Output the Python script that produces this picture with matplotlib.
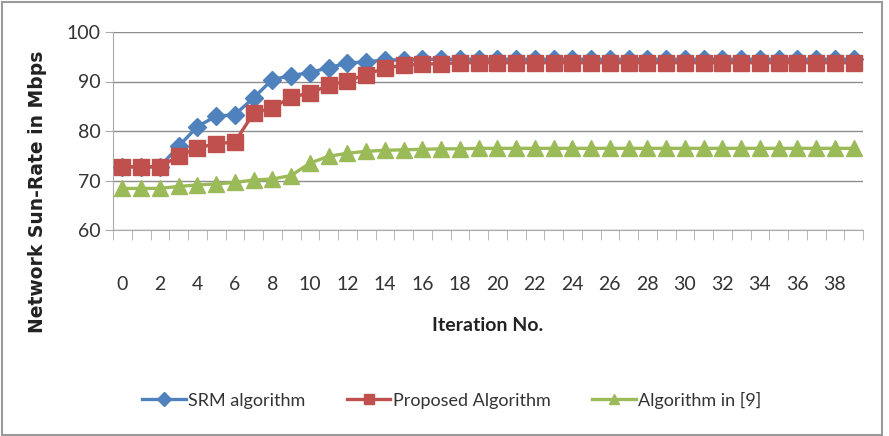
import matplotlib
matplotlib.use("Agg")
import matplotlib.pyplot as plt
from matplotlib.patches import Rectangle
import numpy as np

iterations = list(range(40))
srm = [72.8, 72.8, 72.8, 76.9, 80.9, 83.0, 83.3, 86.7, 90.4, 91.2, 91.8, 92.8, 93.7, 94.0, 94.3,
       94.4, 94.5, 94.5, 94.5, 94.5, 94.5, 94.5, 94.5, 94.5, 94.5, 94.5, 94.5, 94.5, 94.5, 94.5,
       94.5, 94.5, 94.5, 94.5, 94.5, 94.5, 94.5, 94.5, 94.5, 94.5]
proposed = [72.8, 72.8, 72.8, 74.9, 76.6, 77.4, 77.8, 83.6, 84.7, 86.8, 87.7, 89.2, 90.1, 91.4, 92.7,
            93.3, 93.5, 93.6, 93.8, 93.8, 93.8, 93.8, 93.8, 93.8, 93.8, 93.8, 93.8, 93.8, 93.8, 93.8,
            93.8, 93.8, 93.8, 93.8, 93.8, 93.8, 93.8, 93.8, 93.8, 93.8]
alg9 = [68.4, 68.4, 68.4, 68.8, 69.1, 69.3, 69.6, 70.1, 70.3, 71.0, 73.5, 74.9, 75.5, 75.9, 76.1,
        76.2, 76.3, 76.4, 76.4, 76.5, 76.5, 76.5, 76.5, 76.5, 76.5, 76.5, 76.5, 76.5, 76.5, 76.5,
        76.5, 76.5, 76.5, 76.5, 76.5, 76.5, 76.5, 76.5, 76.5, 76.5]
x_ticklabels = [str(v) for v in range(0, 40, 2)]
y_ticks = [60, 70, 80, 90, 100]

narrow = ['Lato', 'DejaVu Sans']

fig = plt.figure(figsize=(8.89, 4.36), dpi=100)
fig.patches.append(Rectangle((0.002, 0.003), 0.990, 0.993, transform=fig.transFigure,
                             fill=False, edgecolor='#9a9a9a', linewidth=1.5))
ax = fig.add_axes([113/889, 1-230/436, (863-113)/889, (230-32)/436])

x = np.array(iterations)
ax.plot(x, srm, color='#4F81BD', marker='D', markersize=9, linewidth=2.4, label='SRM algorithm', zorder=3)
ax.plot(x, proposed, color='#C0504D', marker='s', markersize=11, linewidth=2.4, label='Proposed Algorithm', zorder=4)
ax.plot(x, alg9, color='#9BBB59', marker='^', markersize=11, linewidth=2.4, label='Algorithm in [9]', zorder=3)

ax.set_xlim(-0.5, 39.5)
ax.set_ylim(60, 100)
ax.set_yticks(y_ticks)
ax.set_yticklabels([str(v) for v in y_ticks], fontfamily=narrow, fontsize=14, color='#333333')
ax.set_xticks(np.arange(0, 40, 2))
ax.set_xticklabels(x_ticklabels, fontfamily=narrow, fontsize=14, color='#333333')
ax.tick_params(axis='x', which='major', length=0, pad=33)
ax.set_xticks(np.arange(-0.5, 40, 1), minor=True)
ax.tick_params(axis='x', which='minor', length=7, color='#aaaaaa', direction='out')
ax.tick_params(axis='y', length=6, color='#aaaaaa', pad=3)
ax.grid(axis='y', color='#8c8c8c', linewidth=1.0)
ax.set_axisbelow(True)
for s in ['top', 'right']:
    ax.spines[s].set_visible(False)
ax.spines['left'].set_color('#aaaaaa')
ax.spines['bottom'].set_color('#aaaaaa')

fig.text(488/889, 1-325/436, 'Iteration No.', ha='center', va='center',
         fontsize=14, fontweight='bold', family=narrow, color='#222222')
fig.text(38/889, 1-192/436, 'Network Sun-Rate in Mbps', rotation=90, ha='center', va='center',
         fontsize=13.5, fontweight='bold', family='DejaVu Sans', color='#222222')

leg = fig.legend(loc='center', bbox_to_anchor=(452/889, 1-400/436), ncol=3, frameon=False,
                 prop={'family': narrow, 'size': 13}, handlelength=2.4, columnspacing=2.3,
                 handletextpad=0.15)
for t in leg.get_texts():
    t.set_color('#333333')
for h in leg.legend_handles:
    h.set_markersize(7)

fig.savefig('out.png', dpi=100)
